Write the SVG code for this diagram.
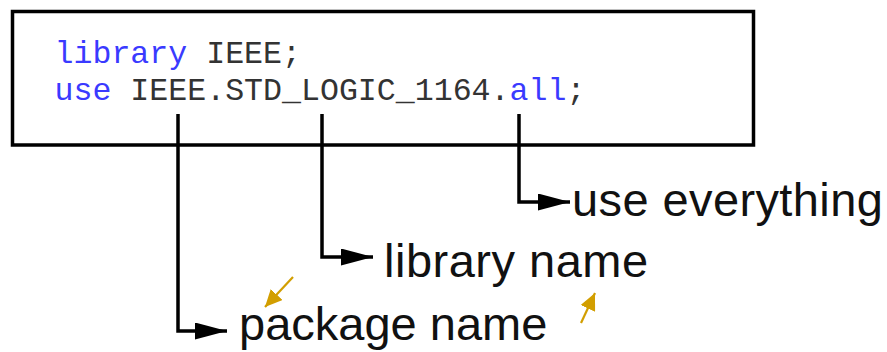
<svg xmlns="http://www.w3.org/2000/svg" width="887" height="352" viewBox="0 0 887 352">
<style>
.code{font-family:"Liberation Mono","Courier New",monospace;font-size:31.6px;fill:#333}
.kw{fill:#3a3aff}
.lbl{font-family:"Liberation Sans",Arial,sans-serif;font-size:47px;fill:#111}
.conn{fill:none;stroke:#000;stroke-width:3.5}
.note{fill:none;stroke:#D29E00;stroke-width:2.2}
</style>
<defs>
<marker id="ah" viewBox="0 0 32 17" refX="32" refY="8.5" markerWidth="32" markerHeight="17" markerUnits="userSpaceOnUse" orient="auto">
<path d="M0,0 L32,8.5 L0,17 z" fill="#000"/>
</marker>
<marker id="oh" viewBox="0 0 17 16" refX="17" refY="8" markerWidth="17" markerHeight="16" markerUnits="userSpaceOnUse" orient="auto">
<path d="M0,0 L17,8 L0,16 z" fill="#D29E00"/>
</marker>
</defs>
<g id="code-box">
<rect x="12.5" y="11.5" width="741" height="133.5" fill="#fff" stroke="#000" stroke-width="3.5"/>
<text class="code" x="54.5" y="63"><tspan class="kw">library</tspan> IEEE;</text>
<text class="code" x="54.5" y="100"><tspan class="kw">use</tspan> IEEE.STD_LOGIC_1164.<tspan class="kw">all</tspan>;</text>
</g>
<g id="connectors">
<path class="conn" d="M178,114 V331 H227" marker-end="url(#ah)"/>
<path class="conn" d="M322,114 V257 H373" marker-end="url(#ah)"/>
<path class="conn" d="M519,114 V202 H570" marker-end="url(#ah)"/>
<path class="note" d="M293,277 L265,307" marker-end="url(#oh)"/>
<path class="note" d="M581,323 L595,293" marker-end="url(#oh)"/>
</g>
<g id="label-use-everything"><text class="lbl" x="572" y="216" letter-spacing="0.4">use everything</text></g>
<g id="label-library-name"><text class="lbl" x="384" y="277" letter-spacing="0.5">library name</text></g>
<g id="label-package-name"><text class="lbl" x="239" y="340">package name</text></g>
</svg>
